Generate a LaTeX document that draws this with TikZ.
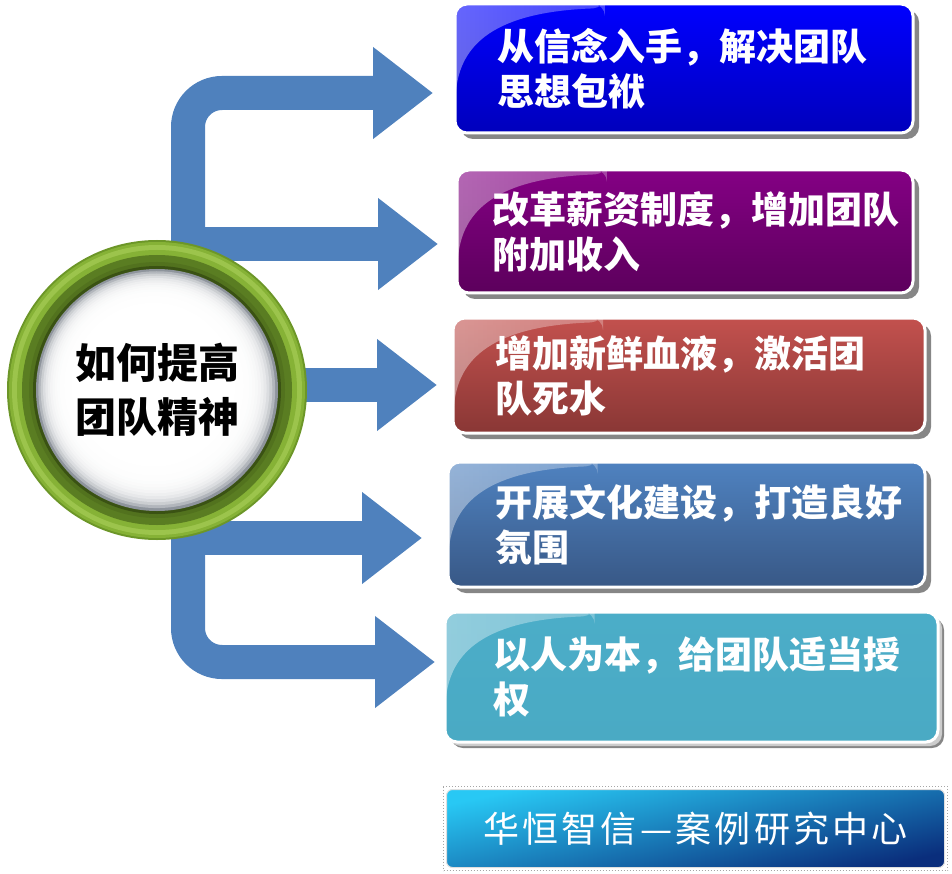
\documentclass[tikz,border=0pt]{standalone}
\usepackage{fontspec}
\newfontfamily\cjk{Noto Sans CJK SC}
\newfontfamily\cjkwide{Noto Sans CJK SC}[LetterSpace=9]
\usetikzlibrary{arrows.meta,positioning,fit,calc,shadows,backgrounds,fadings}

\definecolor{flowblue}{HTML}{4F81BD}
\definecolor{ringdeep}{HTML}{3A5213}
\definecolor{ringdark}{HTML}{5A7D22}
\definecolor{ringlight}{HTML}{86B236}
\definecolor{ringhi}{HTML}{9CC44C}
\definecolor{ringedge}{HTML}{6C9628}
\definecolor{sphereedge}{HTML}{8E949C}
\definecolor{bluetop}{HTML}{0000FF}
\definecolor{bluebot}{HTML}{0000BC}
\definecolor{plumtop}{HTML}{840084}
\definecolor{plumbot}{HTML}{5C005C}
\definecolor{redtop}{HTML}{C3514E}
\definecolor{redbot}{HTML}{893735}
\definecolor{steeltop}{HTML}{4F82C0}
\definecolor{steelbot}{HTML}{385886}
\definecolor{tealtop}{HTML}{4BADC8}
\definecolor{tealbot}{HTML}{4AAAC4}
\definecolor{brandtop}{HTML}{28C8F4}
\definecolor{brandbot}{HTML}{0A2E7C}

\begin{document}
\begin{tikzpicture}[x=1pt,y=-1pt,
  flow/.style={line width=34pt,draw=flowblue,-{Triangle[length=60pt,width=88pt]}},
  hub/.style={circle,minimum size=300pt,inner sep=0pt,fill=ringedge,align=center,
              font=\cjk\bfseries\fontsize{41pt}{54pt}\selectfont,
              path picture={
                \foreach \r/\c in {148/ringlight,145/ringhi,140/ringlight,135/ringdark,
                                   128/ringdark!75!ringdeep,124/ringdeep}
                  \fill[\c] (path picture bounding box.center) circle[radius=\r pt];
                \foreach \k in {0,...,24}{
                  \pgfmathsetmacro\m{100-100*exp(-\k/2.6)}
                  \fill[white!\m!sphereedge] ($(path picture bounding box.center)+(-0.25*\k pt,0.35*\k pt)$)
                    circle[radius=121pt-2.6*\k pt];}
              }},
  tip/.style={rounded corners=12pt,draw=white,line width=3pt,align=left,inner xsep=0pt,
              text=white,font=\cjk\bfseries\fontsize{37pt}{45pt}\selectfont,
              drop shadow={shadow xshift=6pt,shadow yshift=-6pt,fill=gray!95,opacity=1},
              path picture={\fill[white,fill opacity=0.4,path fading=east]
                (path picture bounding box.north west)
                -- ([yshift=-100pt]path picture bounding box.north west)
                .. controls ([shift={(5pt,-40pt)}]path picture bounding box.north west)
                and ([shift={(40pt,-8pt)}]path picture bounding box.north west)
                .. ([shift={(150pt,-4pt)}]path picture bounding box.north west)
                -- ([xshift=150pt]path picture bounding box.north west) -- cycle;}},
  banner/.style={rounded corners=6pt,draw=white!75!gray,line width=1pt,minimum width=498pt,
                 minimum height=78pt,top color=brandtop,bottom color=brandbot,shading angle=12,
                 text=white,font=\cjkwide\fontsize{36pt}{40pt}\selectfont}
]
\useasboundingbox (0,0) rectangle (952,874);

\node[hub] (hub) at (157,390) {如何提高\\团队精神};

\node[tip,top color=bluetop,bottom color=bluebot,minimum width=458pt,minimum height=129pt,
      text width=374pt] (b1) at (684,68.5) {从信念入手，解决团队\\思想包袱};
\node[tip,top color=plumtop,bottom color=plumbot,minimum width=456pt,minimum height=123pt,
      text width=386pt] (b2) at (685,231.5) {改革薪资制度，增加团队\\附加收入};
\node[tip,top color=redtop,bottom color=redbot,minimum width=472pt,minimum height=115pt,
      text width=388pt] (b3) at (689,375.5) {增加新鲜血液，激活团\\队死水};
\node[tip,top color=steeltop,bottom color=steelbot,minimum width=477pt,minimum height=125pt,
      text width=383pt] (b4) at (686.5,524.5) {开展文化建设，打造良好\\氛围};
\node[tip,top color=tealtop,bottom color=tealbot,minimum width=493pt,minimum height=130pt,
      text width=397pt,drop shadow={shadow xshift=4pt,shadow yshift=-4pt,fill=gray!40,opacity=1}]
      (b5) at (691.5,677) {以人为本，给团队适当授\\权};

\node[banner] (brand) at (695.5,828.5) {华恒智信—案例研究中心};
\node[draw=gray!70,dotted,line width=1pt,fit=(brand),inner sep=2.5pt] (frame) {};

% arrow tips stop short of the boxes
\coordinate (trunk) at (188,390);
\coordinate (t1) at (433,93);
\coordinate (t2) at (438,244);
\coordinate (t3) at (437,385);
\coordinate (t4) at (422,538);
\coordinate (t5) at (435,662);

\begin{scope}[on background layer]
\draw[flow,rounded corners=34pt] (trunk) |- (t1);
\draw[flow] (trunk |- t2) -- (t2);
\draw[flow] (hub.center |- t3) -- (t3);
\draw[flow] (trunk |- t4) -- (t4);
\draw[flow,rounded corners=34pt] (trunk) |- (t5);
\end{scope}
\end{tikzpicture}
\end{document}
